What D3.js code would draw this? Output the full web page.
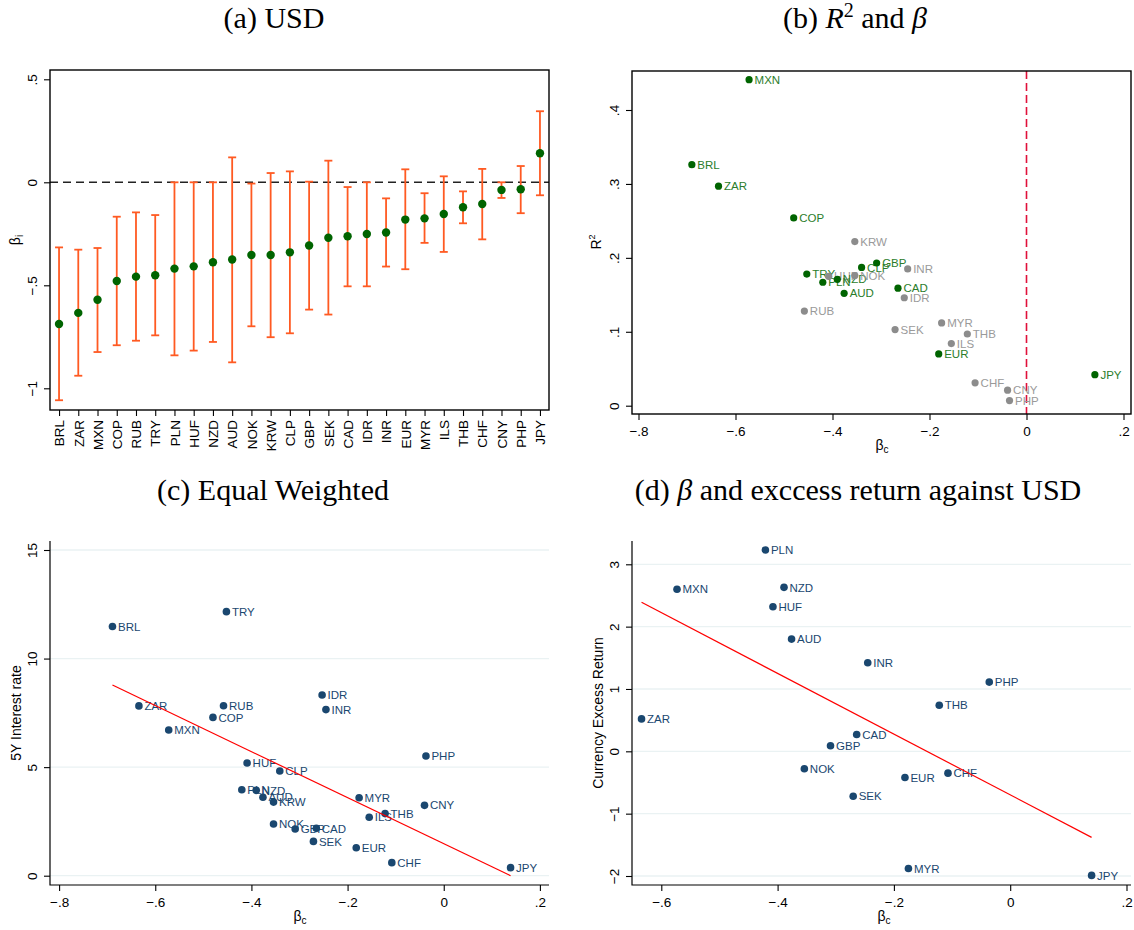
<!DOCTYPE html>
<html>
<head>
<meta charset="utf-8">
<script src="https://cdn.jsdelivr.net/npm/d3@7"></script>
<style>
  body { margin: 0; background: #fff; }
  svg { display: block; }
  text { font-family: "Liberation Sans", Arial, sans-serif; }
  .title { font-family: "Liberation Serif", serif; font-size: 30px; }
</style>
</head>
<body>
<svg width="1134" height="930"></svg>
<script>
// ---- data: panel (a) betas with confidence bands
const ccyA = ["BRL","ZAR","MXN","COP","RUB","TRY","PLN","HUF","NZD","AUD","NOK","KRW","CLP",
  "GBP","SEK","CAD","IDR","INR","EUR","MYR","ILS","THB","CHF","CNY","PHP","JPY"];
const betaA = [-0.688,-0.634,-0.570,-0.479,-0.458,-0.451,-0.419,-0.408,-0.388,-0.375,-0.353,-0.353,-0.340,
  -0.307,-0.269,-0.262,-0.251,-0.244,-0.181,-0.175,-0.154,-0.121,-0.105,-0.037,-0.034,0.141];
const ciHiA = [-0.316,-0.327,-0.319,-0.167,-0.146,-0.159,0.0,0.0,0.0,0.121,-0.006,0.045,0.053,
  0.003,0.105,-0.023,0.0,-0.078,0.063,-0.053,0.029,-0.044,0.065,0.0,0.079,0.345];
const ciLoA = [-1.058,-0.939,-0.824,-0.791,-0.769,-0.743,-0.840,-0.817,-0.775,-0.874,-0.699,-0.752,-0.733,
  -0.618,-0.642,-0.505,-0.505,-0.409,-0.422,-0.294,-0.338,-0.199,-0.277,-0.076,-0.150,-0.063];

// ---- panel (b) R2 vs beta, sig = 1 for green
const ccyB = ["MXN","BRL","ZAR","COP","KRW","GBP","CLP","INR","TRY","HUF","NZD","NOK","PLN",
  "CAD","AUD","IDR","RUB","SEK","MYR","THB","ILS","EUR","CHF","CNY","PHP","JPY"];
const betaB = [-0.572,-0.690,-0.635,-0.480,-0.354,-0.309,-0.340,-0.245,-0.453,-0.408,-0.390,-0.354,-0.420,
  -0.265,-0.376,-0.252,-0.458,-0.271,-0.175,-0.122,-0.155,-0.181,-0.106,-0.039,-0.035,0.141];
const r2B = [0.441,0.326,0.297,0.254,0.222,0.193,0.187,0.185,0.178,0.175,0.171,0.176,0.167,
  0.159,0.152,0.146,0.128,0.103,0.112,0.097,0.084,0.070,0.031,0.021,0.007,0.042];
const sigB = [1,1,1,1,0,1,1,0,1,0,1,0,1,1,1,0,0,0,0,0,0,1,0,0,0,1];

// ---- panel (c) 5Y rate vs beta
const ccyC = ["BRL","TRY","ZAR","RUB","COP","MXN","IDR","INR","PHP","HUF","CLP","PLN","NZD",
  "AUD","KRW","MYR","CNY","THB","ILS","NOK","GBP","CAD","SEK","EUR","CHF","JPY"];
const betaC = [-0.689,-0.452,-0.634,-0.458,-0.480,-0.572,-0.253,-0.245,-0.037,-0.409,-0.341,-0.420,-0.390,
  -0.376,-0.354,-0.176,-0.040,-0.122,-0.155,-0.354,-0.309,-0.265,-0.271,-0.182,-0.108,0.139];
const rateC = [11.48,12.16,7.82,7.83,7.29,6.71,8.32,7.65,5.51,5.19,4.82,3.96,3.93,
  3.61,3.39,3.59,3.24,2.86,2.69,2.38,2.15,2.18,1.58,1.29,0.60,0.37];
const fitCx = [-0.689, 0.139], fitCy = [8.78, 0.0];

// ---- panel (d) excess return vs beta
const ccyD = ["PLN","MXN","NZD","HUF","AUD","INR","PHP","THB","ZAR","CAD","GBP","NOK","EUR",
  "CHF","SEK","MYR","JPY"];
const betaD = [-0.421,-0.573,-0.389,-0.408,-0.376,-0.245,-0.036,-0.122,-0.634,-0.264,-0.309,-0.354,-0.181,
  -0.107,-0.270,-0.175,0.140];
const retD = [3.23,2.60,2.63,2.32,1.80,1.42,1.11,0.74,0.52,0.27,0.09,-0.28,-0.42,
  -0.35,-0.72,-1.88,-1.99];
const fitDx = [-0.634, 0.140], fitDy = [2.39, -1.38];

const svg = d3.select("svg");
const navy = "#1a476f", green = "#006400", greenTxt = "#2b7d2b", gray = "#8c8c8c", grayTxt = "#9a9a9a";

// stata-ish number labels: .5, −.5, −1
function fmt(d) {
  if (d === 0) return "0";
  let s = String(+Math.abs(d).toFixed(2)).replace(/^0\./, ".");
  return (d < 0 ? "\u2212" : "") + s;
}

// left axis with vertical labels
function yAxis(scale, ticks, x) {
  const g = svg.append("g").attr("transform", `translate(${x},0)`)
    .call(d3.axisLeft(scale).tickValues(ticks).tickFormat(fmt).tickSize(6).tickSizeOuter(0));
  g.select(".domain").remove();
  g.selectAll(".tick line").attr("stroke", "#000").attr("stroke-width", 1.1);
  g.selectAll(".tick text").attr("x", 0).attr("dy", 0).attr("text-anchor", "middle")
    .attr("transform", "translate(-13,0) rotate(-90)")
    .style("font-size", "13.5px").attr("fill", "#000");
  return g;
}
function xAxis(scale, ticks, y) {
  const g = svg.append("g").attr("transform", `translate(0,${y})`)
    .call(d3.axisBottom(scale).tickValues(ticks).tickFormat(fmt).tickSize(6).tickSizeOuter(0));
  g.select(".domain").remove();
  g.selectAll(".tick line").attr("stroke", "#000").attr("stroke-width", 1.1);
  g.selectAll(".tick text").style("font-size", "13.5px").attr("fill", "#000").attr("dy", "0.95em");
  return g;
}
function yTitle(x, y) {
  return svg.append("text").attr("transform", `translate(${x},${y}) rotate(-90)`)
    .attr("text-anchor", "middle").style("font-size", "14px");
}
function betaC_title(x, y) {
  const t = svg.append("text").attr("x", x).attr("y", y).attr("text-anchor", "middle").style("font-size", "14px");
  t.append("tspan").text("β");
  t.append("tspan").text("c").style("font-size", "10px").attr("dy", "3");
}

// ================= (a) USD
{
  const L = 50, R = 549, T = 70, B = 410;
  const x = d3.scalePoint().domain(ccyA).range([L, R]).padding(0.47);
  const y = d3.scaleLinear().domain([-1, 0.5]).range([388.3, 79.3]);

  svg.append("text").attr("class", "title").attr("x", 274).attr("y", 28)
    .attr("text-anchor", "middle").text("(a) USD");

  svg.append("line").attr("x1", L).attr("x2", R).attr("y1", y(0)).attr("y2", y(0))
    .attr("stroke", "#222").attr("stroke-width", 1.4).attr("stroke-dasharray", "8,5");

  const bars = svg.append("g").attr("stroke", "#ff5a22").attr("stroke-width", 1.8);
  ccyA.forEach((c, i) => {
    const cx = x(c);
    bars.append("line").attr("x1", cx).attr("x2", cx).attr("y1", y(ciLoA[i])).attr("y2", y(ciHiA[i]));
    bars.append("line").attr("x1", cx - 4).attr("x2", cx + 4).attr("y1", y(ciLoA[i])).attr("y2", y(ciLoA[i]));
    bars.append("line").attr("x1", cx - 4).attr("x2", cx + 4).attr("y1", y(ciHiA[i])).attr("y2", y(ciHiA[i]));
  });
  svg.append("g").selectAll("circle").data(ccyA).enter().append("circle")
    .attr("cx", d => x(d)).attr("cy", (d, i) => y(betaA[i])).attr("r", 4.2).attr("fill", green);

  svg.append("rect").attr("x", L).attr("y", T).attr("width", R - L).attr("height", B - T)
    .attr("fill", "none").attr("stroke", "#000").attr("stroke-width", 1.4);

  yAxis(y, [-1, -0.5, 0, 0.5], L);
  const gx = svg.append("g").attr("transform", `translate(0,${B})`)
    .call(d3.axisBottom(x).tickSize(6).tickSizeOuter(0));
  gx.select(".domain").remove();
  gx.selectAll(".tick line").attr("stroke", "#000").attr("stroke-width", 1.1);
  gx.selectAll(".tick text").attr("y", 0).attr("dy", "0.35em").attr("text-anchor", "end")
    .attr("transform", "translate(0,10) rotate(-90)").style("font-size", "13.5px").attr("fill", "#000");

  const t = yTitle(20, 240);
  t.append("tspan").text("β");
  t.append("tspan").text("i").style("font-size", "10px").attr("dy", "3");
}

// ================= (b) R2 and beta
{
  const L = 632, R = 1131, T = 71, B = 414;
  const x = d3.scaleLinear().domain([-0.8, 0.2]).range([638.5, 1123.5]);
  const y = d3.scaleLinear().domain([0, 0.4]).range([405.7, 110]);

  const t = svg.append("text").attr("class", "title").attr("x", 855).attr("y", 28).attr("text-anchor", "middle");
  t.append("tspan").text("(b) ");
  t.append("tspan").text("R").style("font-style", "italic");
  t.append("tspan").text("2").style("font-size", "20px").attr("dy", -11);
  t.append("tspan").text(" and ").attr("dy", 11);
  t.append("tspan").text("β").style("font-style", "italic");

  svg.append("line").attr("x1", x(0)).attr("x2", x(0)).attr("y1", T).attr("y2", B)
    .attr("stroke", "#e0103a").attr("stroke-width", 1.6).attr("stroke-dasharray", "8,4");

  svg.append("g").selectAll("text").data(ccyB).enter().append("text")
    .attr("x", (d, i) => x(betaB[i]) + 5.5).attr("y", (d, i) => y(r2B[i])).attr("dy", "0.36em")
    .style("font-size", "11.5px").attr("fill", (d, i) => sigB[i] ? greenTxt : grayTxt).text(d => d);
  svg.append("g").selectAll("circle").data(ccyB).enter().append("circle")
    .attr("cx", (d, i) => x(betaB[i])).attr("cy", (d, i) => y(r2B[i])).attr("r", 3.6)
    .attr("fill", (d, i) => sigB[i] ? green : gray);

  svg.append("rect").attr("x", L).attr("y", T).attr("width", R - L).attr("height", B - T)
    .attr("fill", "none").attr("stroke", "#000").attr("stroke-width", 1.4);

  yAxis(y, [0, 0.1, 0.2, 0.3, 0.4], L);
  xAxis(x, [-0.8, -0.6, -0.4, -0.2, 0, 0.2], B);

  const yt = yTitle(601, 242);
  yt.append("tspan").text("R");
  yt.append("tspan").text("2").style("font-size", "9px").attr("dy", "-6");
  betaC_title(882, 450);
}

// ================= (c) Equal Weighted
{
  const L = 50, R = 549, T = 541, B = 885;
  const x = d3.scaleLinear().domain([-0.8, 0.2]).range([59.1, 539.9]);
  const y = d3.scaleLinear().domain([0, 15]).range([875.7, 550]);
  const yt = [0, 5, 10, 15];

  svg.append("text").attr("class", "title").attr("x", 273).attr("y", 500)
    .attr("text-anchor", "middle").text("(c) Equal Weighted");

  svg.append("g").selectAll("line").data(yt).enter().append("line")
    .attr("x1", L).attr("x2", R).attr("y1", d => y(d)).attr("y2", d => y(d))
    .attr("stroke", "#eaf2f3").attr("stroke-width", 1.3);

  svg.append("g").selectAll("text").data(ccyC).enter().append("text")
    .attr("x", (d, i) => x(betaC[i]) + 5.5).attr("y", (d, i) => y(rateC[i])).attr("dy", "0.36em")
    .style("font-size", "11.5px").attr("fill", navy).text(d => d);
  svg.append("g").selectAll("circle").data(ccyC).enter().append("circle")
    .attr("cx", (d, i) => x(betaC[i])).attr("cy", (d, i) => y(rateC[i])).attr("r", 3.8).attr("fill", navy);

  svg.append("line").attr("x1", x(fitCx[0])).attr("y1", y(fitCy[0])).attr("x2", x(fitCx[1])).attr("y2", y(fitCy[1]))
    .attr("stroke", "#ff0000").attr("stroke-width", 1.2);

  svg.append("path").attr("d", `M${L},${T}V${B}H${R}`).attr("fill", "none").attr("stroke", "#000").attr("stroke-width", 1.2);
  yAxis(y, yt, L);
  xAxis(x, [-0.8, -0.6, -0.4, -0.2, 0, 0.2], B);

  yTitle(21, 713).text("5Y Interest rate");
  betaC_title(300, 921);
}

// ================= (d) beta and excess return
{
  const L = 632, R = 1131, T = 541, B = 885;
  const x = d3.scaleLinear().domain([-0.6, 0.2]).range([661.3, 1126.5]);
  const y = d3.scaleLinear().domain([-2, 3]).range([876, 564.3]);
  const yt = [-2, -1, 0, 1, 2, 3];

  const t = svg.append("text").attr("class", "title").attr("x", 858).attr("y", 500).attr("text-anchor", "middle");
  t.append("tspan").text("(d) ");
  t.append("tspan").text("β").style("font-style", "italic");
  t.append("tspan").text(" and exccess return against USD");

  svg.append("g").selectAll("line").data(yt).enter().append("line")
    .attr("x1", L).attr("x2", R).attr("y1", d => y(d)).attr("y2", d => y(d))
    .attr("stroke", "#eaf2f3").attr("stroke-width", 1.3);

  svg.append("g").selectAll("text").data(ccyD).enter().append("text")
    .attr("x", (d, i) => x(betaD[i]) + 5.5).attr("y", (d, i) => y(retD[i])).attr("dy", "0.36em")
    .style("font-size", "11.5px").attr("fill", navy).text(d => d);
  svg.append("g").selectAll("circle").data(ccyD).enter().append("circle")
    .attr("cx", (d, i) => x(betaD[i])).attr("cy", (d, i) => y(retD[i])).attr("r", 3.8).attr("fill", navy);

  svg.append("line").attr("x1", x(fitDx[0])).attr("y1", y(fitDy[0])).attr("x2", x(fitDx[1])).attr("y2", y(fitDy[1]))
    .attr("stroke", "#ff0000").attr("stroke-width", 1.2);

  svg.append("path").attr("d", `M${L},${T}V${B}H${R}`).attr("fill", "none").attr("stroke", "#000").attr("stroke-width", 1.2);
  yAxis(y, yt, L);
  xAxis(x, [-0.6, -0.4, -0.2, 0, 0.2], B);

  yTitle(603, 713).text("Currency Excess Return");
  betaC_title(884, 921);
}
</script>
</body>
</html>
